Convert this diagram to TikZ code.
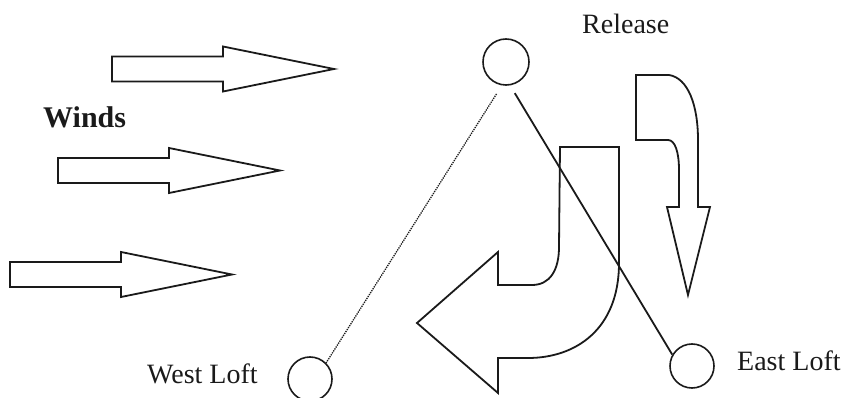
\documentclass[tikz,border=0pt]{standalone}
\usepackage{fontspec}
\setmainfont{Liberation Serif}
\usepackage{xcolor}
\definecolor{ink}{HTML}{1A1A1A}

\begin{document}
\begin{tikzpicture}[x=1pt, y=-1pt,
    outline/.style={draw=ink, line width=1.8pt, line join=miter},
    loft/.style={circle, draw=ink, line width=1.6pt, minimum size=44pt, inner sep=0},
    lofttext/.style={anchor=base west, inner sep=0, text=ink, font=\fontsize{28}{30}\selectfont}]

\useasboundingbox (0,0) rectangle (849,398);

% ---------- Winds ----------
\foreach \x/\y in {112/69, 58/170.5, 10/274.5} {
    \draw[outline] (\x,\y-12.5) -- ++(111,0) -- ++(0,-10) -- ++(111,22.5)
        -- ++(-111,22.5) -- ++(0,-10) -- ++(-111,0) -- cycle;
}
\node[anchor=base west, inner sep=0, text=ink, font=\bfseries\fontsize{30}{32}\selectfont] (winds) at (43,128) {Winds};

% ---------- Balloon points ----------
\node[loft, minimum size=46pt] (release) at (506,62) {};
\node[loft] (westloft) at (310,379) {};
\node[loft] (eastloft) at (692,366) {};

\node[lofttext] (releasetext) at (582,34) {Release};
\node[lofttext] (westtext) at (147,383) {West Loft};
\node[lofttext] (easttext) at (737,370) {East Loft};

% Paths
\draw[ink, densely dotted, line width=1.3pt, shorten <=10pt] (release.-100) -- (westloft.45);
\draw[ink, line width=1.8pt, shorten <=9pt] (release.-80) -- (eastloft.150);

% ---------- Turning arrows ----------
\draw[outline] (560,147) -- (619,147) -- (619,263)
    .. controls (619,330) and (575,358) .. (528,358) -- (498,358) -- (498,393)
    -- (417,323) -- (498,252) -- (498,285) -- (532,285)
    .. controls (550,285) and (559,270) .. (559,247) -- cycle;

\draw[outline] (636,75) -- (669,75) .. controls (688,78) and (698,105) .. (698,140)
    -- (698,207) -- (710,207) -- (688,295) -- (667,207) -- (679,207) -- (679,170)
    .. controls (679,152) and (675,140) .. (668,140) -- (636,140) -- cycle;

\end{tikzpicture}
\end{document}
